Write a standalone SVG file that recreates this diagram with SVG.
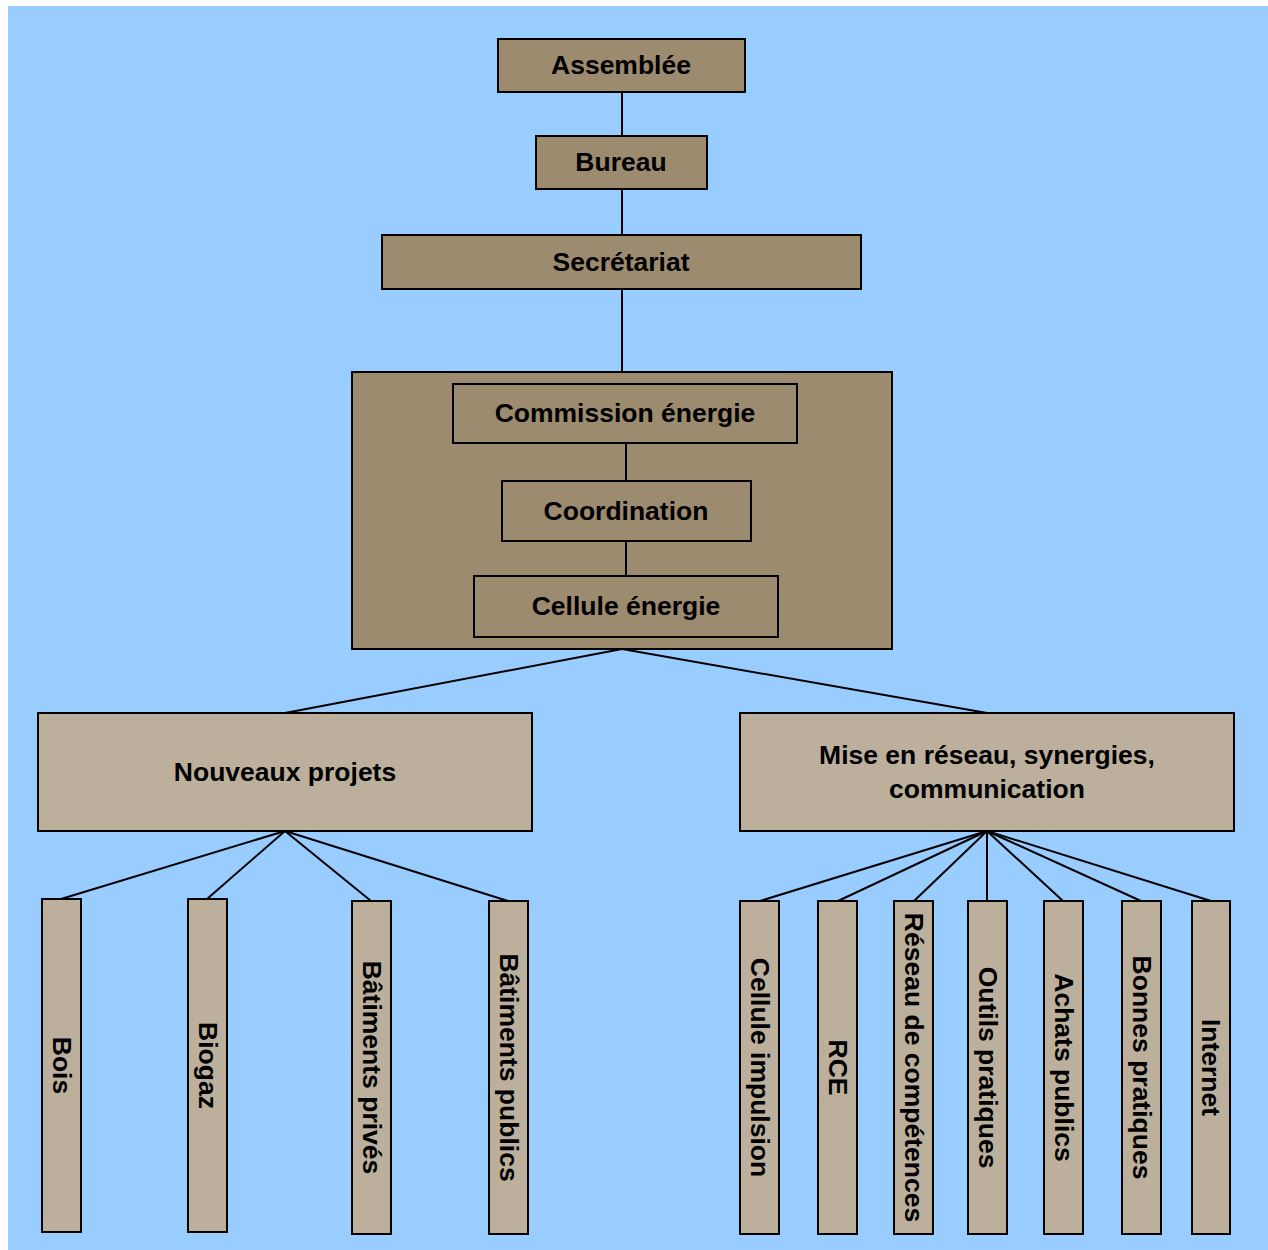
<svg xmlns="http://www.w3.org/2000/svg" width="1268" height="1250" viewBox="0 0 1268 1250">
<style>
.bg{fill:#99CCFF}
.dk{fill:#9C8B6E;stroke:#000;stroke-width:2}
.lt{fill:#BCB09C;stroke:#000;stroke-width:2}
.t{font-family:"Liberation Sans",Arial,sans-serif;font-weight:bold;font-size:26.5px;fill:#000;text-anchor:middle}
.c line{stroke:#000;stroke-width:2}
</style>
<rect x="0" y="0" width="1268" height="1250" fill="#FFFFFF"/>
<rect class="bg" x="8" y="6" width="1260" height="1244"/>
<g id="groupe-energie">
<rect class="dk" x="352" y="372" width="540" height="277"/>
</g>
<g class="c" id="connectors">
<line x1="622" y1="92" x2="622" y2="136"/>
<line x1="622" y1="189" x2="622" y2="235"/>
<line x1="622" y1="289" x2="622" y2="372"/>
<line x1="626" y1="443" x2="626" y2="481"/>
<line x1="626" y1="541" x2="626" y2="576"/>
<line x1="622" y1="649" x2="285" y2="713"/>
<line x1="622" y1="649" x2="987" y2="713"/>
<line x1="285" y1="831" x2="61" y2="899"/>
<line x1="285" y1="831" x2="207" y2="899"/>
<line x1="285" y1="831" x2="371" y2="901"/>
<line x1="285" y1="831" x2="508" y2="901"/>
<line x1="987" y1="831" x2="760" y2="901"/>
<line x1="987" y1="831" x2="838" y2="901"/>
<line x1="987" y1="831" x2="914" y2="901"/>
<line x1="987" y1="831" x2="987" y2="901"/>
<line x1="987" y1="831" x2="1063" y2="901"/>
<line x1="987" y1="831" x2="1141" y2="901"/>
<line x1="987" y1="831" x2="1211" y2="901"/>
</g>
<g id="assemblee"><rect class="dk" x="498" y="39" width="247" height="53"/><text class="t" x="621" y="74">Assemblée</text></g>
<g id="bureau"><rect class="dk" x="536" y="136" width="171" height="53"/><text class="t" x="621" y="171">Bureau</text></g>
<g id="secretariat"><rect class="dk" x="382" y="235" width="479" height="54"/><text class="t" x="621" y="271">Secrétariat</text></g>
<g id="commission"><rect class="dk" x="453" y="384" width="344" height="59"/><text class="t" x="625" y="422">Commission énergie</text></g>
<g id="coordination"><rect class="dk" x="502" y="481" width="249" height="60"/><text class="t" x="626" y="520">Coordination</text></g>
<g id="cellule-energie"><rect class="dk" x="474" y="576" width="304" height="61"/><text class="t" x="626" y="615">Cellule énergie</text></g>
<g id="nouveaux-projets"><rect class="lt" x="38" y="713" width="494" height="118"/><text class="t" x="285" y="781">Nouveaux projets</text></g>
<g id="mise-en-reseau"><rect class="lt" x="740" y="713" width="494" height="118"/><text class="t" x="987" y="764">Mise en réseau, synergies,</text><text class="t" x="987" y="798">communication</text></g>
<g id="bois"><rect class="lt" x="42" y="899" width="39" height="333"/><text class="t" transform="translate(61.5,1065.5) rotate(90)" x="0" y="9">Bois</text></g>
<g id="biogaz"><rect class="lt" x="188" y="899" width="39" height="333"/><text class="t" transform="translate(207.5,1065.5) rotate(90)" x="0" y="9">Biogaz</text></g>
<g id="batiments-prives"><rect class="lt" x="352" y="901" width="39" height="333"/><text class="t" transform="translate(371.5,1067.5) rotate(90)" x="0" y="9">Bâtiments privés</text></g>
<g id="batiments-publics"><rect class="lt" x="489" y="901" width="39" height="333"/><text class="t" transform="translate(508.5,1067.5) rotate(90)" x="0" y="9">Bâtiments publics</text></g>
<g id="cellule-impulsion"><rect class="lt" x="740" y="901" width="39" height="333"/><text class="t" transform="translate(759.5,1067.5) rotate(90)" x="0" y="9">Cellule impulsion</text></g>
<g id="rce"><rect class="lt" x="818" y="901" width="39" height="333"/><text class="t" transform="translate(837.5,1067.5) rotate(90)" x="0" y="9">RCE</text></g>
<g id="reseau-competences"><rect class="lt" x="894" y="901" width="39" height="333"/><text class="t" transform="translate(913.5,1067.5) rotate(90)" x="0" y="9">Réseau de compétences</text></g>
<g id="outils-pratiques"><rect class="lt" x="968" y="901" width="39" height="333"/><text class="t" transform="translate(987.5,1067.5) rotate(90)" x="0" y="9">Outils pratiques</text></g>
<g id="achats-publics"><rect class="lt" x="1044" y="901" width="39" height="333"/><text class="t" transform="translate(1063.5,1067.5) rotate(90)" x="0" y="9">Achats publics</text></g>
<g id="bonnes-pratiques"><rect class="lt" x="1122" y="901" width="39" height="333"/><text class="t" transform="translate(1141.5,1067.5) rotate(90)" x="0" y="9">Bonnes pratiques</text></g>
<g id="internet"><rect class="lt" x="1192" y="901" width="38" height="333"/><text class="t" transform="translate(1211,1067.5) rotate(90)" x="0" y="9">Internet</text></g>
</svg>
